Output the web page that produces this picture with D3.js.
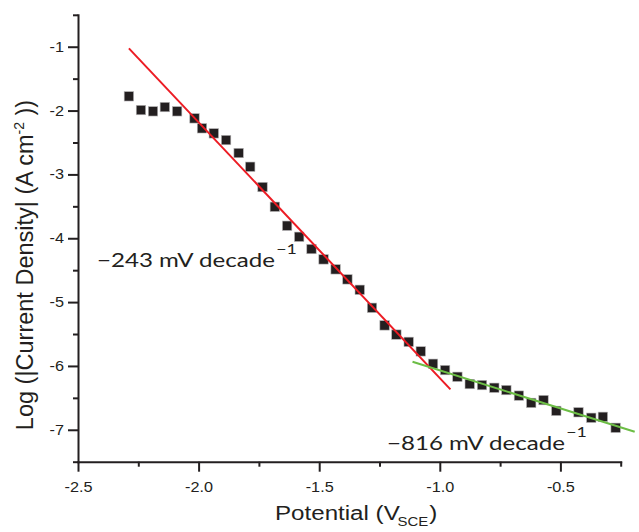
<!DOCTYPE html>
<html>
<head>
<meta charset="utf-8">
<script src="https://cdn.jsdelivr.net/npm/d3@7"></script>
<style>
  html, body { margin: 0; padding: 0; background: #fff; }
  svg { display: block; }
</style>
</head>
<body>
<svg id="chart" width="639" height="532"></svg>
<script>
// ---- Data ----
const potential = [
  -2.289, -2.239, -2.189, -2.140, -2.089, -2.017, -1.986, -1.937, -1.886, -1.834,
  -1.786, -1.735, -1.684, -1.633, -1.583, -1.532, -1.482, -1.432, -1.383, -1.332,
  -1.281, -1.229, -1.180, -1.129, -1.079, -1.028, -0.978, -0.927, -0.876, -0.825,
  -0.774, -0.724, -0.672, -0.621, -0.570, -0.517, -0.425, -0.372, -0.324, -0.271
];
const logCurrent = [
  -1.777, -1.992, -2.012, -1.945, -2.012, -2.122, -2.278, -2.357, -2.462, -2.665,
  -2.880, -3.198, -3.507, -3.804, -3.977, -4.169, -4.331, -4.487, -4.644, -4.807,
  -5.089, -5.365, -5.509, -5.623, -5.772, -5.966, -6.065, -6.170, -6.284, -6.300,
  -6.342, -6.378, -6.465, -6.579, -6.535, -6.704, -6.726, -6.812, -6.797, -6.969
];
// Tafel fit lines: endpoints
const fitRedX = [-2.289, -0.956];
const fitRedY = [-1.025, -6.367];
const fitGreenX = [-1.113, -0.192];
const fitGreenY = [-5.935, -7.032];

const xMajorTicks = [-2.5, -2.0, -1.5, -1.0, -0.5];
const xMinorTicks = [-2.25, -1.75, -1.25, -0.75, -0.25];
const yMajorTicks = [-1, -2, -3, -4, -5, -6, -7];
const yMinorTicks = [-0.5, -1.5, -2.5, -3.5, -4.5, -5.5, -6.5, -7.5];

const xDomain = [-2.5, -0.25];
const yDomain = [-7.5, -0.5];

// ---- Layout ----
const svg = d3.select("#chart");
const mLeft = 78, mRight = 620.7, mTop = 14.8, mBottom = 461.7;
const axisColor = "#231f20";
const stretch = 1.16;

const x = d3.scaleLinear().domain(xDomain).range([mLeft, mRight]);
const y = d3.scaleLinear().domain(yDomain).range([mBottom, mTop]);

const g = svg.append("g");
const line = d3.line().x(d => x(d[0])).y(d => y(d[1]));

// Markers
const size = 9.4;
g.selectAll("rect.pt")
  .data(potential.map((v, i) => [v, logCurrent[i]]))
  .join("rect")
  .attr("class", "pt")
  .attr("x", d => x(d[0]) - size / 2)
  .attr("y", d => y(d[1]) - size / 2)
  .attr("width", size).attr("height", size)
  .attr("fill", "#231f20")
  .attr("stroke", "#b5b3b4").attr("stroke-width", 0.6);

// Fit lines
g.append("path")
  .datum(fitRedX.map((v, i) => [v, fitRedY[i]]))
  .attr("d", line).attr("fill", "none")
  .attr("stroke", "#ec1c24").attr("stroke-width", 2);

g.append("path")
  .datum(fitGreenX.map((v, i) => [v, fitGreenY[i]]))
  .attr("d", line).attr("fill", "none")
  .attr("stroke", "#6cbd45").attr("stroke-width", 2);

// Axes
const fmtX = d => d3.format(".1f")(d).replace("−", "-");
const fmtY = d => d3.format("d")(d).replace("−", "-");
const tickFont = "'Liberation Sans', Arial, sans-serif";

const xAxisG = svg.append("g").attr("transform", `translate(0,${mBottom})`)
  .call(d3.axisBottom(x).tickValues(xMajorTicks).tickFormat(fmtX).tickSizeInner(10).tickSizeOuter(0).tickPadding(10));
svg.append("g").attr("transform", `translate(0,${mBottom})`)
  .call(d3.axisBottom(x).tickValues(xMinorTicks).tickFormat("").tickSizeInner(5).tickSizeOuter(0))
  .select(".domain").remove();

const yAxisG = svg.append("g").attr("transform", `translate(${mLeft},0)`)
  .call(d3.axisLeft(y).tickValues(yMajorTicks).tickFormat(fmtY).tickSizeInner(10).tickSizeOuter(0).tickPadding(4));
svg.append("g").attr("transform", `translate(${mLeft},0)`)
  .call(d3.axisLeft(y).tickValues(yMinorTicks).tickFormat("").tickSizeInner(5).tickSizeOuter(0))
  .select(".domain").remove();

svg.selectAll(".domain, .tick line").attr("stroke", axisColor).attr("stroke-width", 2);
svg.selectAll(".domain").attr("stroke-linecap", "square");
svg.selectAll(".tick text")
  .attr("fill", axisColor)
  .style("font-family", tickFont)
  .style("font-size", "14px");
xAxisG.selectAll(".tick text").attr("transform", `scale(${stretch},1)`);
yAxisG.selectAll(".tick text")
  .attr("x", -14 / stretch)
  .attr("transform", `scale(${stretch},1)`);

// Axis titles
const titleFont = "'Liberation Sans', Arial, sans-serif";
const xt = svg.append("text")
  .attr("transform", `translate(275,520) scale(1.15,1)`)
  .attr("fill", axisColor)
  .style("font-family", titleFont).style("font-size", "21px");
xt.append("tspan").text("Potential (V");
xt.append("tspan").attr("dy", 6).attr("dx", -2).style("font-size", "13px").text("SCE");
xt.append("tspan").attr("dy", -6).attr("dx", 1).text(")");

const yt = svg.append("text")
  .attr("transform", "translate(33,265) rotate(-90)")
  .attr("text-anchor", "middle")
  .attr("fill", axisColor)
  .style("font-family", titleFont).style("font-size", "23.5px");
yt.append("tspan").text("Log (|Current Density| (A cm");
yt.append("tspan").attr("dy", -9).style("font-size", "14px").text("-2");
yt.append("tspan").attr("dy", 9).text(" ))");

// Annotations
const annFont = "Lato, 'Open Sans', sans-serif";
function annotate(px, py, label) {
  const t = svg.append("text")
    .attr("transform", `translate(${px},${py}) scale(1.27,1)`)
    .attr("fill", axisColor)
    .style("font-family", annFont).style("font-size", "19px");
  t.append("tspan").text(label);
  t.append("tspan").attr("dy", -13.5).attr("dx", 1).style("font-size", "14px").text("−1");
}
annotate(97, 267, "−243 mV decade");
annotate(387, 450, "−816 mV decade");
</script>
</body>
</html>
